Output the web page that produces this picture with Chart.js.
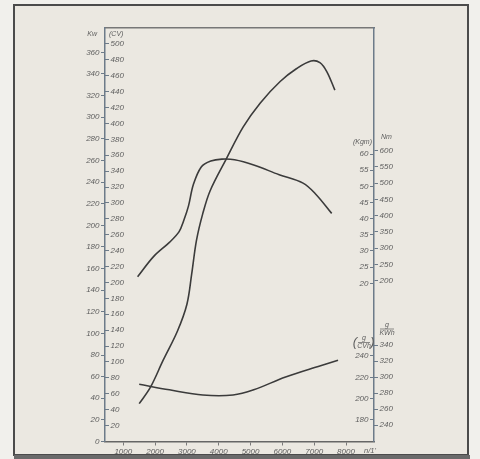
<!DOCTYPE html>
<html><head><meta charset="utf-8">
<script src="https://cdn.jsdelivr.net/npm/chart.js@4/dist/chart.umd.min.js"></script>
<style>html,body{margin:0;padding:0;background:#f1f0ec;}canvas{display:block;}</style>
</head><body>
<canvas id="c" width="480" height="459"></canvas>
<script>
// ---- data ----
const rpmPower = [1500, 1850, 2250, 2700, 3000, 3150, 3300, 3500, 3730, 4230, 4770, 5300, 5930, 6450, 6900, 7180, 7400, 7650];
const powerKw  = [35, 50, 75, 102, 127, 155, 186, 211, 232, 261, 291, 313, 333, 345, 352, 350.5, 342, 325];

const rpmTorque = [1450, 1950, 2450, 2750, 2900, 3050, 3200, 3450, 3750, 4100, 4500, 5100, 5900, 6650, 7050, 7550];
const torqueNm  = [212, 274, 318, 350, 385, 430, 495, 550, 568, 574, 572, 556, 526, 500, 466, 407];

const rpmFuel  = [1500, 2450, 3500, 4450, 5100, 6100, 7200, 7750];
const fuelGkWh = [291, 284, 277.5, 277.5, 284, 300, 314, 321];

// ---- tick labels ----
const rpmTicks  = [1000, 2000, 3000, 4000, 5000, 6000, 7000, 8000];
const kwTicks   = [0, 20, 40, 60, 80, 100, 120, 140, 160, 180, 200, 220, 240, 260, 280, 300, 320, 340, 360];
const cvTicks   = [20, 40, 60, 80, 100, 120, 140, 160, 180, 200, 220, 240, 260, 280, 300, 320, 340, 360, 380, 400, 420, 440, 460, 480, 500];
const kgmTicks  = [20, 25, 30, 35, 40, 45, 50, 55, 60];
const nmTicks   = [200, 250, 300, 350, 400, 450, 500, 550, 600];
const gcvhTicks = [180, 200, 220, 240];
const gkwhTicks = [240, 260, 280, 300, 320, 340];

const FONT = '"Liberation Sans", Arial, sans-serif';
const TICK_FONT = {family: FONT, size: 8, style: 'italic'};
const TICK_COLOR = '#5e5e5e';
const AXIS_COLOR = '#6d7b89';
const LINE_COLOR = '#3b3b3b';

function zeroPad(s){ s.paddingTop = 0; s.paddingBottom = 0; s.paddingLeft = 0; s.paddingRight = 0; }

function yAxis(pos, min, max, ticks, mirror, showBorder){
  const pad = mirror ? (pos === 'right' ? -5.5 : 5.5) : 1.5;
  return {
    type: 'linear', position: pos, min: min, max: max,
    afterBuildTicks: s => { s.ticks = ticks.map(v => ({value: v})); },
    afterFit: s => { s.width = 0; zeroPad(s); },
    grid: {drawOnChartArea: false, drawTicks: true, tickLength: mirror ? -4 : 4, color: AXIS_COLOR, lineWidth: 1},
    border: {display: showBorder, color: AXIS_COLOR, width: 1.5},
    ticks: {mirror: mirror, padding: pad, font: TICK_FONT, color: TICK_COLOR, autoSkip: false,
            callback: v => String(v)}
  };
}

function pts(xs, ys){ return xs.map((x, i) => ({x: x, y: ys[i]})); }

const paper = {
  id: 'paper',
  afterLayout(chart){
    // give the outward-facing axes a box wide enough that their labels are not clipped
    const a = chart.chartArea, s = chart.scales;
    ['kw'].forEach(id => { s[id].left = 0; s[id].right = a.left; s[id].width = a.left; });
    ['nm', 'gkwh'].forEach(id => { s[id].left = a.right; s[id].right = chart.width; s[id].width = chart.width - a.right; });
    s.x.top = a.bottom; s.x.bottom = chart.height; s.x.height = chart.height - a.bottom;
  },
  beforeDraw(chart){
    const c = chart.ctx;
    c.save();
    c.fillStyle = '#f1f0ec'; c.fillRect(0, 0, 480, 459);
    c.fillStyle = '#ebe8e1'; c.fillRect(14, 5, 454, 450);
    c.strokeStyle = '#4b4b4b'; c.lineWidth = 2; c.strokeRect(14, 5, 454, 450);
    c.fillStyle = '#6a6a6a'; c.fillRect(14, 455, 456, 4);
    c.restore();
  },
  afterDraw(chart){
    const c = chart.ctx, a = chart.chartArea;
    c.save();
    c.fillStyle = TICK_COLOR;
    c.font = 'italic 7px ' + FONT;
    c.textBaseline = 'middle';
    // left titles
    c.textAlign = 'right'; c.fillText('Kw', a.left - 8, 34);
    c.textAlign = 'left';  c.fillText('(CV)', a.left + 4, 34);
    // torque titles
    c.textAlign = 'right'; c.fillText('(Kgm)', a.right - 2, 142);
    c.textAlign = 'left';  c.fillText('Nm', a.right + 7, 137);
    // fuel titles: g / KWh
    c.textAlign = 'center';
    c.fillText('g', a.right + 13, 325);
    c.fillText('KWh', a.right + 13, 333.5);
    c.strokeStyle = TICK_COLOR; c.lineWidth = 0.7;
    c.beginPath(); c.moveTo(a.right + 6, 329); c.lineTo(a.right + 20, 329); c.stroke();
    // (g / CVh)
    c.fillText('g', a.right - 10, 338.5);
    c.fillText('CVh', a.right - 10, 346.5);
    c.beginPath(); c.moveTo(a.right - 16, 342.5); c.lineTo(a.right - 4, 342.5); c.stroke();
    c.font = 'italic 13px ' + FONT;
    c.textAlign = 'center';
    c.fillText('(', a.right - 19, 342.5);
    c.fillText(')', a.right - 1.5, 342.5);
    // rpm unit
    c.font = 'italic 7.5px ' + FONT;
    c.textAlign = 'left';
    c.fillText("n/1'", a.right - 10, 451);
    c.restore();
  }
};

new Chart(document.getElementById('c'), {
  type: 'scatter',
  data: {
    datasets: [
      {data: pts(rpmPower, powerKw), yAxisID: 'kw'},
      {data: pts(rpmTorque, torqueNm), yAxisID: 'nm'},
      {data: pts(rpmFuel, fuelGkWh), yAxisID: 'gkwh'}
    ].map(d => Object.assign(d, {xAxisID: 'x', showLine: true, pointRadius: 0, borderColor: LINE_COLOR,
                                 borderWidth: 1.6, tension: 0.35, fill: false}))
  },
  options: {
    responsive: false, animation: false, events: [],
    layout: {padding: {left: 105, right: 106, top: 28, bottom: 17.5}},
    plugins: {legend: {display: false}, tooltip: {enabled: false}},
    scales: {
      x: {
        type: 'linear', position: 'bottom', min: 425, max: 8880,
        afterBuildTicks: s => { s.ticks = rpmTicks.map(v => ({value: v})); },
        afterFit: s => { s.height = 0; zeroPad(s); },
        grid: {drawOnChartArea: false, tickLength: 4, color: '#7a7a7a'},
        border: {color: '#666', width: 1.5},
        ticks: {padding: 1, font: TICK_FONT, color: TICK_COLOR, autoSkip: false, maxRotation: 0, callback: v => String(v)}
      },
      xTop: {
        type: 'linear', position: 'top', min: 425, max: 8880,
        afterFit: s => { s.height = 0; zeroPad(s); },
        grid: {drawOnChartArea: false, drawTicks: false},
        border: {display: true, color: '#777', width: 1.5},
        ticks: {display: false}
      },
      cv:   yAxis('left', 0, 520, cvTicks, true, false),
      kw:   yAxis('left', 0, 382.5, kwTicks, false, true),
      kgm:  yAxis('right', -28.94, 98.98, kgmTicks, true, false),
      nm:   yAxis('right', -295, 977.5, nmTicks, false, true),
      gcvh: yAxis('right', 159.8, 547.5, gcvhTicks, true, false),
      gkwh: yAxis('right', 219.4, 736.25, gkwhTicks, false, false)
    }
  },
  plugins: [paper]
});
</script>
</body></html>
